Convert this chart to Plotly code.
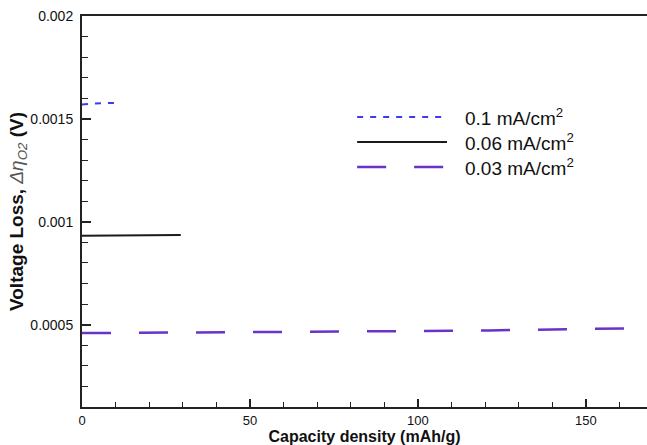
import plotly.graph_objects as go

# Data
x_01 = [0, 4, 10]
y_01 = [0.00157, 0.001575, 0.001578]

x_006 = [0, 14.2, 14.2, 29.4]
y_006 = [0.000932, 0.000933, 0.000936, 0.000936]

x_003 = [0, 40, 80, 121, 156, 161.4]
y_003 = [0.000459, 0.000462, 0.000467, 0.000472, 0.000479, 0.000482]

series_names = ["0.1 mA/cm<sup>2</sup>", "0.06 mA/cm<sup>2</sup>", "0.03 mA/cm<sup>2</sup>"]
series_colors = ["#3b3bf5", "#1a1a1a", "#6a32c8"]
series_dash = ["6px,7px", "solid", "29px,28px"]

y_tickvals = [0.0005, 0.001, 0.0015, 0.002]
y_ticktext = ["0.0005", "0.001", "0.0015", "0.002"]
x_tickvals = [0, 50, 100, 150]

FONT = "Arial, Liberation Sans, sans-serif"

fig = go.Figure()
for xs, ys, name, col, dash, w in zip(
    [x_01, x_006, x_003], [y_01, y_006, y_003], series_names, series_colors, series_dash, [2, 2, 2.5]
):
    fig.add_trace(go.Scatter(x=xs, y=ys, mode="lines", name=name,
                             line=dict(color=col, width=w, dash=dash), showlegend=False))

# Custom legend (long line samples as in the reference)
leg_y = [0.742, 0.678, 0.614]
for yy, name, col, dash, w in zip(leg_y, series_names, series_colors, series_dash, [2, 2, 2.5]):
    fig.add_shape(type="line", xref="paper", yref="paper", x0=0.487, x1=0.646, y0=yy, y1=yy,
                  line=dict(color=col, width=w, dash=dash))
    fig.add_annotation(xref="paper", yref="paper", x=0.674, y=yy, text=name, showarrow=False,
                       xanchor="left", yanchor="middle", font=dict(family=FONT, size=19, color="#111"))

fig.update_layout(
    width=647, height=445,
    margin=dict(l=82, r=0, t=16, b=38, autoexpand=False),
    paper_bgcolor="white", plot_bgcolor="white",
    font=dict(family=FONT, color="#111"),
    showlegend=False,
)

fig.update_xaxes(
    range=[0, 168.2], tickvals=x_tickvals, ticks="inside", ticklen=8, tickwidth=2, tickcolor="#222",
    showline=True, linecolor="#222", linewidth=2, mirror=True, showgrid=False, zeroline=False,
    tickfont=dict(family=FONT, size=13, color="#111"),
    minor=dict(dtick=10, tick0=0, ticks="inside", ticklen=5, tickwidth=1, tickcolor="#222", showgrid=False),
    title=dict(text="<b>Capacity density (mAh/g)</b>", font=dict(family=FONT, size=16, color="#111"), standoff=5),
    automargin=False,
)
fig.update_yaxes(
    range=[0.0001, 0.002], tickvals=y_tickvals, ticktext=y_ticktext, ticks="inside", ticklen=9, tickwidth=2,
    tickcolor="#222", showline=True, linecolor="#222", linewidth=2, mirror=False, showgrid=False, zeroline=False,
    tickfont=dict(family=FONT, size=14, color="#111"), ticklabelstandoff=4,
    minor=dict(dtick=0.0001, tick0=0, ticks="inside", ticklen=6, tickwidth=1, tickcolor="#222", showgrid=False),
    title=dict(text="<b>Voltage Loss, </b><span style='color:#555'><i>Δη</i><sub><i>O2</i></sub></span><b> (V)</b>",
               font=dict(family=FONT, size=19, color="#111"), standoff=2),
    automargin=False,
)

fig.write_html("out.html")
